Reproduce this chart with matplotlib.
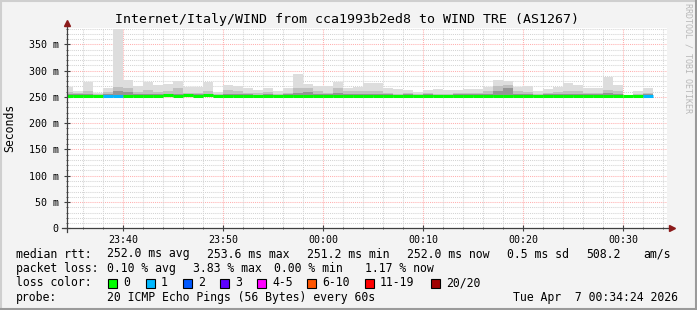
import numpy as np
import matplotlib
matplotlib.use("Agg")
import matplotlib.pyplot as plt
from matplotlib.patches import Rectangle
from matplotlib.lines import Line2D

# minutes relative to midnight, one bin per minute (23:34 .. 00:32)
bin_start = np.arange(-26, 33)

# smoke: top of lightest, medium and dark layers (ms)
ping_max = [268, 262, 278, 258, 266, 380, 283, 270, 278, 272, 274, 280, 268, 268, 278,
            260, 272, 270, 267, 264, 266, 262, 266, 293, 274, 271, 271, 278, 266, 269,
            276, 276, 267, 265, 264, 260, 264, 265, 264, 264, 265, 265, 269, 283, 281,
            269, 270, 262, 265, 269, 276, 272, 267, 266, 288, 272, np.nan, 262, 266]
ping_mid = [260, 258, 262, 256, 260, 268, 266, 260, 264, 260, 262, 266, 258, 258, 262,
            256, 264, 262, 258, 258, 260, 256, 258, 266, 266, 262, 258, 266, 262, 262,
            262, 262, 258, 256, 258, 256, 258, 256, 256, 258, 258, 258, 262, 270, 272,
            262, 260, 256, 258, 260, 262, 262, 258, 258, 264, 262, np.nan, 256, 258]
ping_low = [255, 255, 256, 254, 255, 262, 260, 255, 256, 255, 256, 256, 255, 255, 256,
            254, 256, 255, 255, 254, 255, 254, 255, 258, 260, 255, 255, 258, 256, 256,
            256, 256, 255, 254, 255, 254, 255, 254, 254, 255, 255, 255, 256, 262, 266,
            256, 256, 254, 255, 256, 256, 256, 255, 255, 258, 256, np.nan, 254, 255]
smoke_floor = 250

median = [252, 252, 252, 252, 252, 252, 252, 252, 252, 252, 254, 252, 254, 252, 254,
          252, 252, 252, 252, 252, 252, 252, 252, 252, 252, 252, 252, 252, 252, 252,
          252, 252, 252, 252, 252, 252, 252, 252, 252, 252, 252, 252, 252, 252, 252,
          252, 252, 252, 252, 252, 252, 252, 252, 252, 252, 252, 252, 252, 252]
lost = [0, 0, 0, 0, 1, 1, 0, 0, 0, 0, 0, 0, 0, 0, 0,
        0, 0, 0, 0, 0, 0, 0, 0, 0, 0, 0, 0, 0, 0, 0,
        0, 0, 0, 0, 0, 0, 0, 0, 0, 0, 0, 0, 0, 0, 0,
        0, 0, 0, 0, 0, 0, 0, 0, 0, 0, 0, 0, 0, 1]

loss_labels = ["0", "1", "2", "3", "4-5", "6-10", "11-19", "20/20"]
loss_colors = ["#00ff00", "#00b8ff", "#0059ff", "#5e00ff", "#ff00ff", "#ff5500", "#ff0000", "#a10000"]

x_ticks = [-20, -10, 0, 10, 20, 30]
x_labels = ["23:40", "23:50", "00:00", "00:10", "00:20", "00:30"]
y_ticks = [0, 50, 100, 150, 200, 250, 300, 350]
y_labels = ["0", "50 m", "100 m", "150 m", "200 m", "250 m", "300 m", "350 m"]

title = "Internet/Italy/WIND from cca1993b2ed8 to WIND TRE (AS1267)"
rtt_stats = [("median rtt:", 16), ("252.0 ms avg", 107), ("253.6 ms max", 207),
             ("251.2 ms min", 307), ("252.0 ms now", 407), ("0.5 ms sd", 507),
             ("508.2", 586), ("am/s", 643)]
loss_stats = [("packet loss:", 16), ("0.10 % avg", 107), ("3.83 % max", 193),
              ("0.00 % min", 274), ("1.17 % now", 365)]
box_x = [108, 146, 183, 220, 257, 307, 365, 431]

W, H = 697, 310
MONO = "DejaVu Sans Mono"


def fx(px):
    return px / W


def fy(py):
    return 1 - py / H


fig = plt.figure(figsize=(W / 100, H / 100), dpi=100, facecolor="#f3f3f3")
ax = fig.add_axes([fx(67), fy(228.3), 600 / W, 200.8 / H])
ax.set_facecolor("white")
ax.set_xlim(-25.6, 34.4)
ax.set_ylim(0, 382)

# grid
dot = (0, (1, 1))
for v in range(10, 381, 10):
    c = "#ffb0b0" if v % 50 == 0 else "#d4d4d4"
    ax.axhline(v, color=c, lw=0.75, ls=dot, zorder=1)
for m in range(-24, 35, 2):
    c = "#ffb0b0" if m % 10 == 0 else "#d4d4d4"
    ax.axvline(m, color=c, lw=0.75, ls=dot, zorder=1)

# smoke
pmax = np.array(ping_max)
pmid = np.array(ping_mid)
plow = np.array(ping_low)
ax.bar(bin_start, pmax - smoke_floor, bottom=smoke_floor, width=1, align="edge",
       color="#dddddd", lw=0, zorder=2)
ax.bar(bin_start, pmid - smoke_floor, bottom=smoke_floor, width=1, align="edge",
       color="#c0c0c0", lw=0, zorder=3)
ax.bar(bin_start, plow - smoke_floor, bottom=smoke_floor, width=1, align="edge",
       color="#959595", lw=0, zorder=4)

# median line coloured by loss
ax.hlines(median, bin_start, bin_start + 1, colors=[loss_colors[n] for n in lost],
          lw=2.2, zorder=5)

# axes
for s in ax.spines.values():
    s.set_visible(False)
ax.plot([0, 0], [-0.018, 1.02], transform=ax.transAxes, color="#404040", lw=0.9,
        clip_on=False, zorder=6)
ax.plot([-0.008, 1.008], [0, 0], transform=ax.transAxes, color="#404040", lw=0.9,
        clip_on=False, zorder=6)
ax.plot(0, 1.02, marker="^", ms=5, color="#8b1a1a", transform=ax.transAxes, clip_on=False, zorder=7)
ax.plot(1.008, 0, marker=">", ms=5, color="#8b1a1a", transform=ax.transAxes, clip_on=False, zorder=7)

ax.set_xticks(x_ticks, x_labels, fontfamily=MONO, fontsize=7.2)
ax.set_yticks(y_ticks, y_labels, fontfamily=MONO, fontsize=7.2)
ax.set_xticks(range(-24, 35, 2), minor=True)
ax.set_yticks(range(10, 381, 10), minor=True)
ax.tick_params(axis="both", which="major", direction="inout", length=4, width=0.8,
               color="#404040", pad=3)
ax.tick_params(axis="both", which="minor", direction="inout", length=2, width=0.6,
               color="#404040")
ax.tick_params(axis="y", which="major", pad=4)

fig.text(fx(10), fy(127.5), "Seconds", rotation=90, ha="center", va="center",
         fontfamily=MONO, fontsize=8.3)
fig.text(fx(347), fy(19), title, ha="center", va="center", fontfamily=MONO, fontsize=9.5)
fig.text(fx(688), fy(58), "RRDTOOL / TOBI OETIKER", rotation=270, ha="center", va="center",
         fontfamily=MONO, fontsize=6, color="#b8b8b8")

# legend
for txt, x in rtt_stats:
    fig.text(fx(x), fy(254), txt, ha="left", va="center", fontfamily=MONO, fontsize=8.3)
for txt, x in loss_stats:
    fig.text(fx(x), fy(268.5), txt, ha="left", va="center", fontfamily=MONO, fontsize=8.3)
fig.text(fx(16), fy(283), "loss color:", ha="left", va="center", fontfamily=MONO, fontsize=8.3)
for lab, col, x in zip(loss_labels, loss_colors, box_x):
    fig.add_artist(Rectangle((fx(x), fy(287.5)), 9 / W, 9 / H, facecolor=col,
                             edgecolor="black", lw=0.8, transform=fig.transFigure))
    fig.text(fx(x + 15), fy(283), lab, ha="left", va="center", fontfamily=MONO, fontsize=8.3)
fig.text(fx(16), fy(297.5), "probe:", ha="left", va="center", fontfamily=MONO, fontsize=8.3)
fig.text(fx(107), fy(297.5), "20 ICMP Echo Pings (56 Bytes) every 60s", ha="left",
         va="center", fontfamily=MONO, fontsize=8.3)
fig.text(fx(513), fy(297.5), "Tue Apr  7 00:34:24 2026", ha="left", va="center",
         fontfamily=MONO, fontsize=8.3)

# 3d frame
fig.add_artist(Line2D([0, 1], [fy(0.8), fy(0.8)], color="#cfcfcf", lw=1.5, transform=fig.transFigure))
fig.add_artist(Line2D([fx(0.8), fx(0.8)], [0, 1], color="#cfcfcf", lw=1.5, transform=fig.transFigure))
fig.add_artist(Line2D([0, 1], [fy(309.2), fy(309.2)], color="#9a9a9a", lw=1.5, transform=fig.transFigure))
fig.add_artist(Line2D([fx(696.2), fx(696.2)], [0, 1], color="#9a9a9a", lw=1.5, transform=fig.transFigure))

fig.savefig("out.png", dpi=100, facecolor=fig.get_facecolor())
